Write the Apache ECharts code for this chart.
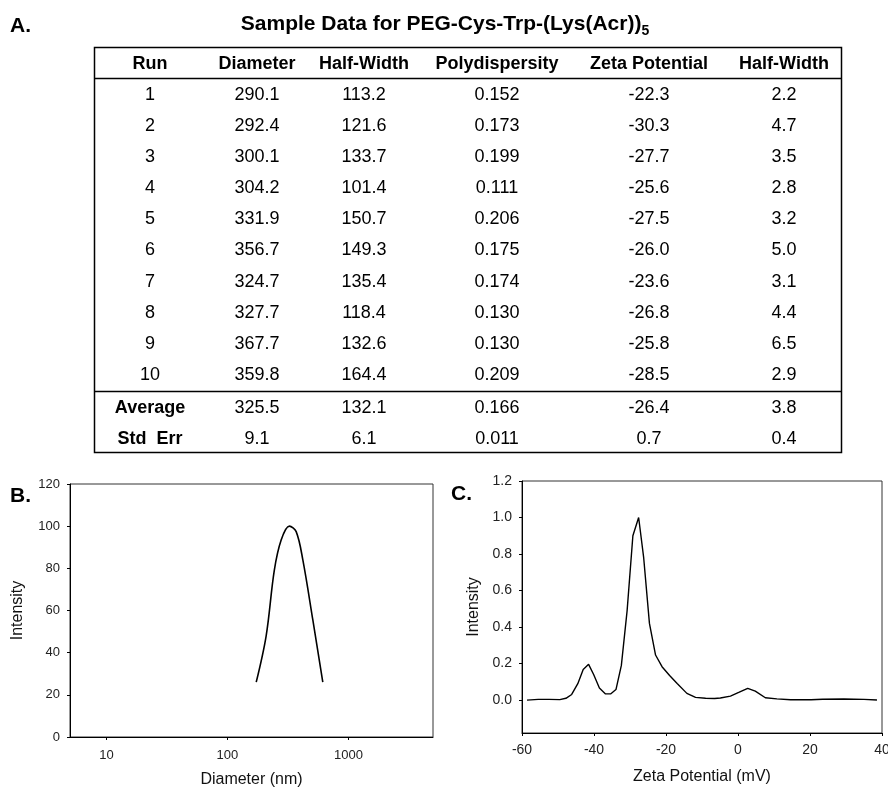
<!DOCTYPE html>
<html><head><meta charset="utf-8">
<script src="https://cdn.jsdelivr.net/npm/echarts@6/dist/echarts.min.js"></script>
<style>html,body{margin:0;padding:0;background:#fff}#c{width:888px;height:788px}</style>
</head><body><div id="c"></div>
<script>
// ---------- Table data ----------
const tableHeaders = ['Run', 'Diameter', 'Half-Width', 'Polydispersity', 'Zeta Potential', 'Half-Width'];
const runs = ['1', '2', '3', '4', '5', '6', '7', '8', '9', '10'];
const diameters = ['290.1', '292.4', '300.1', '304.2', '331.9', '356.7', '324.7', '327.7', '367.7', '359.8'];
const diameterHalfWidths = ['113.2', '121.6', '133.7', '101.4', '150.7', '149.3', '135.4', '118.4', '132.6', '164.4'];
const polydispersities = ['0.152', '0.173', '0.199', '0.111', '0.206', '0.175', '0.174', '0.130', '0.130', '0.209'];
const zetaPotentials = ['-22.3', '-30.3', '-27.7', '-25.6', '-27.5', '-26.0', '-23.6', '-26.8', '-25.8', '-28.5'];
const zetaHalfWidths = ['2.2', '4.7', '3.5', '2.8', '3.2', '5.0', '3.1', '4.4', '6.5', '2.9'];
const summaryLabels = ['Average', 'Std  Err'];
const summaryDiameter = ['325.5', '9.1'];
const summaryDiameterHW = ['132.1', '6.1'];
const summaryPoly = ['0.166', '0.011'];
const summaryZeta = ['-26.4', '0.7'];
const summaryZetaHW = ['3.8', '0.4'];

// ---------- Panel B: size distribution ----------
const sizeDiameter = [173, 209, 244, 278, 325, 370, 420, 508, 614];
const sizeIntensity = [26, 48, 79, 93.4, 100, 97.4, 84, 55.5, 26];
const sizeXLabels = [10, 100, 1000];

// ---------- Panel C: zeta potential distribution ----------
const zetaX = [-58.6, -55.5, -52.5, -49.5, -47.8, -46.2, -44.5, -43.0, -41.5, -40.1, -38.5, -36.8, -35.4, -33.9, -32.4, -30.8, -29.2, -27.6, -26.2, -24.6, -22.9, -21.1, -19.0, -16.9, -14.2, -11.8, -9.0, -6.5, -4.9, -2.1, 0.2, 2.7, 4.8, 7.6, 10.8, 14.6, 20.3, 23.5, 29.4, 35.0, 38.6];
const zetaY = [0.0, 0.004, 0.004, 0.003, 0.01, 0.031, 0.09, 0.168, 0.196, 0.14, 0.066, 0.034, 0.034, 0.058, 0.19, 0.49, 0.9, 1.0, 0.78, 0.42, 0.247, 0.183, 0.135, 0.091, 0.037, 0.015, 0.01, 0.009, 0.012, 0.022, 0.042, 0.064, 0.049, 0.013, 0.007, 0.002, 0.002, 0.005, 0.006, 0.004, 0.001];
const zetaYTicks = [0, 0.2, 0.4, 0.6, 0.8, 1.0, 1.2];

const FONT = '"Liberation Sans", Arial, Helvetica, sans-serif';

// ---------- Table graphics ----------
const colX = [150, 257, 364, 497, 649, 784];
const headerY = 64;
const rowY0 = 95, rowStep = 31.1;
const summaryY = [408.5, 439.5];
const tLeft = 94.5, tRight = 841.5, tTop = 47.5, tBottom = 452.5;

function txt(text, x, y, size, bold, align) {
  return {
    type: 'text', silent: true,
    style: {
      text: text, x: x, y: y,
      font: (bold ? 'bold ' : '') + size + 'px ' + FONT,
      fill: '#000',
      align: align || 'center', textAlign: align || 'center',
      verticalAlign: 'middle', textVerticalAlign: 'middle'
    }
  };
}
function line(x1, y1, x2, y2, w) {
  return { type: 'line', silent: true, shape: { x1, y1, x2, y2 }, style: { stroke: '#000', lineWidth: w } };
}

const graphics = [];
graphics.push(txt('A.', 10, 26, 21, true, 'left'));
graphics.push(txt('B.', 10, 496, 21, true, 'left'));
graphics.push(txt('C.', 451, 494, 21, true, 'left'));
graphics.push({
  type: 'text', silent: true,
  style: {
    text: '{t|Sample Data for PEG-Cys-Trp-(Lys(Acr))}{s|5}',
    x: 445, y: 24, align: 'center', verticalAlign: 'middle', textAlign: 'center', textVerticalAlign: 'middle',
    rich: {
      t: { fontSize: 21, fontWeight: 'bold', fontFamily: FONT, lineHeight: 28, fill: '#000', color: '#000' },
      s: { fontSize: 14, fontWeight: 'bold', fontFamily: FONT, lineHeight: 14, verticalAlign: 'bottom', fill: '#000', color: '#000' }
    }
  }
});
graphics.push({ type: 'rect', silent: true, shape: { x: tLeft, y: tTop, width: tRight - tLeft, height: tBottom - tTop }, style: { fill: 'none', stroke: '#000', lineWidth: 1.5 } });
graphics.push(line(tLeft, 78.5, tRight, 78.5, 1.5));
graphics.push(line(tLeft, 391.5, tRight, 391.5, 1.5));
tableHeaders.forEach((h, i) => graphics.push(txt(h, colX[i], headerY, 18, true)));
const cols = [runs, diameters, diameterHalfWidths, polydispersities, zetaPotentials, zetaHalfWidths];
runs.forEach((r, j) => {
  cols.forEach((c, i) => graphics.push(txt(c[j], colX[i], rowY0 + j * rowStep, 18, false)));
});
const sumCols = [summaryLabels, summaryDiameter, summaryDiameterHW, summaryPoly, summaryZeta, summaryZetaHW];
summaryLabels.forEach((s, j) => {
  sumCols.forEach((c, i) => graphics.push(txt(c[j], colX[i], summaryY[j], 18, i === 0)));
});

// ---------- Chart ----------
const axisLineStyle = { onZero: false, lineStyle: { color: '#000', width: 1 } };
const tickStyle = { show: true, length: 3, inside: false, lineStyle: { color: '#000', width: 1 } };
const labelStyleB = { fontSize: 13, color: '#222', fontFamily: FONT };
const labelStyleC = { fontSize: 14, color: '#222', fontFamily: FONT };
const nameStyle = { fontSize: 16, color: '#111', fontFamily: FONT };

const option = {
  animation: false,
  backgroundColor: '#fff',
  textStyle: { fontFamily: FONT },
  grid: [
    { left: 70, top: 484, width: 363, height: 253, show: true, borderColor: '#333', borderWidth: 1, containLabel: false, outerBoundsMode: 'none' },
    { left: 522, top: 481, width: 360, height: 252, show: true, borderColor: '#333', borderWidth: 1, containLabel: false, outerBoundsMode: 'none' }
  ],
  xAxis: [
    {
      gridIndex: 0, type: 'log', logBase: 10, min: 5, max: 5000,
      name: 'Diameter (nm)', nameLocation: 'middle', nameGap: 35, nameTextStyle: nameStyle,
      axisLine: axisLineStyle, axisTick: tickStyle, splitLine: { show: false }, minorTick: { show: false },
      axisLabel: Object.assign({}, labelStyleB, {
        margin: 12, showMinLabel: false, showMaxLabel: false,
        formatter: v => { const r = Math.round(v); return (sizeXLabels.indexOf(r) >= 0 && Math.abs(v - r) < 1e-6) ? String(r) : ''; }
      })
    },
    {
      gridIndex: 1, type: 'value', min: -60, max: 40, interval: 20,
      name: 'Zeta Potential (mV)', nameLocation: 'middle', nameGap: 36, nameTextStyle: nameStyle,
      axisLine: axisLineStyle, axisTick: tickStyle, splitLine: { show: false },
      axisLabel: Object.assign({}, labelStyleC, { margin: 10 })
    }
  ],
  yAxis: [
    {
      gridIndex: 0, type: 'value', min: 0, max: 120, interval: 20,
      name: 'Intensity', nameLocation: 'middle', nameRotate: 90, nameGap: 44, nameTextStyle: nameStyle,
      axisLine: axisLineStyle, axisTick: tickStyle, splitLine: { show: false },
      axisLabel: Object.assign({}, labelStyleB, { margin: 10 })
    },
    {
      gridIndex: 1, type: 'value', min: -0.18, max: 1.2,
      name: 'Intensity', nameLocation: 'middle', nameRotate: 90, nameGap: 40, nameTextStyle: nameStyle,
      axisLine: axisLineStyle,
      axisTick: Object.assign({}, tickStyle, { customValues: zetaYTicks }),
      splitLine: { show: false },
      axisLabel: Object.assign({}, labelStyleC, { margin: 10, customValues: zetaYTicks, formatter: v => v.toFixed(1) })
    }
  ],
  series: [
    {
      type: 'line', xAxisIndex: 0, yAxisIndex: 0,
      data: sizeDiameter.map((d, i) => [d, sizeIntensity[i]]),
      showSymbol: false, symbol: 'none', smooth: 0.35,
      lineStyle: { color: '#000', width: 1.6 }, silent: true
    },
    {
      type: 'line', xAxisIndex: 1, yAxisIndex: 1,
      data: zetaX.map((x, i) => [x, zetaY[i]]),
      showSymbol: false, symbol: 'none', smooth: false,
      lineStyle: { color: '#000', width: 1.4 }, silent: true
    }
  ],
  graphic: { elements: graphics }
};

const chart = echarts.init(document.getElementById('c'), null, { renderer: 'canvas' });
chart.setOption(option);
</script>
</body></html>
